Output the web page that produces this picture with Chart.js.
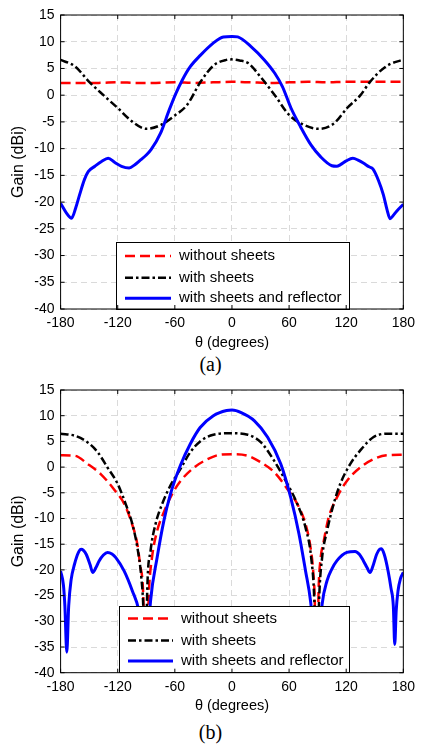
<!DOCTYPE html>
<html>
<head>
<meta charset="utf-8">
<script src="https://cdn.jsdelivr.net/npm/chart.js@4.4.1/dist/chart.umd.min.js"></script>
<style>
  html, body { margin: 0; padding: 0; background: #fff; }
  body { width: 421px; height: 744px; position: relative; overflow: hidden; }
  .plot { position: absolute; left: 0; width: 421px; }
  .cap { position: absolute; left: 0; width: 421px; text-align: center; line-height: 22px;
         font-family: "Liberation Serif", "Times New Roman", serif; font-size: 20px; color: #000; }
</style>
</head>
<body>
<div class="plot" style="top:0;height:352px"><canvas id="chartA"></canvas></div>
<div class="cap" style="top:353px">(a)</div>
<div class="plot" style="top:375px;height:340px"><canvas id="chartB"></canvas></div>
<div class="cap" style="top:721px">(b)</div>

<script>
// labels
const seriesLabels = ['without sheets', 'with sheets', 'with sheets and reflector'];
const xTitle = 'θ (degrees)';
const yTitle = 'Gain (dBi)';

// (a) values
const aRedDeg  = [-180, -160, -140, -120, -100, -80, -60, -40, -20, 0, 20, 40, 60, 80, 100, 120, 140, 160, 180];
const aRedGain = [2.3, 2.3, 2.3, 2.4, 2.3, 2.3, 2.4, 2.3, 2.4, 2.5, 2.4, 2.3, 2.4, 2.5, 2.4, 2.5, 2.5, 2.5, 2.5];

const aBlackDeg  = [-180, -165, -150, -135, -120, -105, -90, -75, -60, -47, -33, -19, -6, 0, 8, 17, 31, 45, 60, 76, 91, 107, 121, 135, 145, 162, 180];
const aBlackGain = [6.6, 5.4, 2.5, 0.0, -2.4, -4.9, -6.3, -5.6, -3.8, -1.8, 2.5, 5.6, 6.6, 6.7, 6.5, 6.0, 3.2, 0.0, -3.7, -5.6, -6.3, -5.3, -2.4, 0.0, 2.5, 5.4, 6.7];

const aBlueDeg  = [-180, -174, -168.5, -164, -160, -155, -151, -144, -137, -130, -123, -116, -108, -102, -96, -90, -85, -75, -66, -59, -52, -44, -33, -20, -9, 0,
                   6, 20, 34, 45, 53, 62, 72, 83, 93, 105, 110, 114, 120, 127, 133, 138, 144, 148, 154, 159, 163, 166, 169, 173, 180];
const aBlueGain = [-20.2, -22.0, -23.0, -21.0, -18.6, -15.8, -14.3, -13.3, -12.4, -11.8, -12.6, -13.3, -13.6, -13.0, -12.1, -11.2, -10.2, -7.1, -2.8, 0.3, 2.9, 5.3, 7.5, 9.7, 10.9, 11.0,
                   10.9, 9.1, 6.6, 4.1, 1.6, -2.4, -5.9, -9.3, -11.5, -13.2, -13.3, -13.0, -12.3, -11.8, -12.2, -12.7, -13.4, -13.8, -16.0, -18.6, -21.5, -23.1, -22.6, -21.7, -20.4];

// (b) values
const bRedDeg  = [-180, -165, -151.5, -137.6, -124, -113, -106, -99.4, -96.6, -93, -91, -87.2, -84, -78.6, -71.6, -63, -54, -40, -26, -12.6, 0,
                  16.6, 30.5, 44.4, 58.3, 68.7, 77.3, 82.5, 85.3, 87, 89, 91, 93, 96.4, 101.6, 110.3, 120.7, 134.6, 148.4, 162.3, 180];
const bRedGain = [2.3, 2.2, 0.6, -1.4, -4.3, -7.2, -10.5, -15.0, -18.9, -26.0, -45, -24.1, -17.6, -12.4, -8.8, -5.3, -2.7, -0.1, 1.5, 2.4, 2.5,
                  2.2, 0.9, -1.0, -4.3, -7.2, -11.1, -15.6, -20.2, -26.0, -45, -24.0, -18.0, -14.4, -9.8, -5.9, -2.7, -0.1, 1.5, 2.3, 2.4];

const bBlackDeg  = [-180, -165, -151.5, -141, -131, -120, -111.6, -104.6, -99.4, -95.2, -93, -91, -89, -85.5, -80.3, -73.4, -64.7, -54.2, -43.8, -33.4, -19.5, 0,
                    16.6, 30.5, 44.4, 58.3, 68.7, 77.3, 83.2, 86.5, 89, 91.5, 94.7, 99.9, 106.8, 113.7, 124.2, 134.6, 148.4, 162.3, 180];
const bBlackGain = [6.5, 6.1, 4.8, 2.9, 0.0, -3.3, -7.2, -11.1, -15.6, -21.5, -28, -45, -24, -16.3, -11.1, -7.2, -3.6, -0.4, 2.9, 5.0, 6.3, 6.6,
                    6.3, 4.8, 1.2, -3.3, -7.2, -11.8, -17.6, -26, -45, -26, -17.6, -12.4, -7.2, -3.3, 0.6, 3.2, 5.8, 6.5, 6.5];

const bBlueDeg  = [-180, -177, -175.5, -173.5, -171.5, -169, -165.4, -161, -158.5, -156, -153, -149, -146.3, -143, -139.4, -135, -130.7, -126, -122, -113.3, -104.6, -97.7, -94, -91,
                   -88, -85.5, -78.6, -71.6, -64.7, -54.2, -43.8, -33.4, -19.5, -5.6, 0, 9.7, 23.6, 37.5, 51.3, 61.7, 70.4, 77.3, 82.5, 86, 89,
                   92, 94.7, 99.9, 105, 110.3, 120.7, 129.4, 134, 138, 142, 145, 148, 151.9, 155, 157.1, 160, 164, 167, 169.5, 171, 172.5, 174.4, 177, 180];
const bBlueGain = [-20.2, -23.0, -27.0, -36.0, -27.0, -22.0, -18.9, -16.5, -16.0, -16.2, -17.0, -19.0, -20.5, -19.6, -18.2, -17.1, -16.6, -16.9, -17.6, -20.2, -24.1, -28.0, -33.0, -45,
                   -33.0, -26.0, -17.6, -10.5, -5.3, 0.3, 4.5, 7.7, 10.0, 11.0, 11.1, 10.6, 9.0, 5.8, 0.6, -5.9, -13.0, -20.2, -26.0, -33.0, -45,
                   -33.0, -26.7, -22.1, -19.8, -18.2, -16.6, -16.4, -17.0, -18.2, -19.6, -20.5, -19.3, -17.0, -16.0, -15.9, -17.0, -20.2, -23.5, -27.0, -34.5, -28.0, -24.1, -21.7, -20.5];

const pts = (deg, gain) => deg.map((d, i) => ({ x: d, y: gain[i] }));

const FONT = '"Liberation Sans", Arial, Helvetica, sans-serif';

// white legend box inside the axes, like MATLAB
const boxLegend = {
  id: 'boxLegend',
  afterDatasetsDraw(chart, args, opts) {
    const { ctx } = chart;
    ctx.save();
    ctx.fillStyle = '#fff';
    ctx.fillRect(opts.x, opts.y, opts.w, opts.h);
    ctx.strokeStyle = '#000';
    ctx.lineWidth = 1;
    ctx.strokeRect(opts.x + 0.5, opts.y + 0.5, opts.w, opts.h);
    chart.data.datasets.forEach((ds, i) => {
      const ry = opts.rows[i];
      ctx.beginPath();
      ctx.strokeStyle = ds.borderColor;
      ctx.lineWidth = ds.borderWidth;
      ctx.setLineDash(ds.borderDash || []);
      ctx.moveTo(opts.lineX0, ry);
      ctx.lineTo(opts.lineX1, ry);
      ctx.stroke();
      ctx.setLineDash([]);
      ctx.fillStyle = '#000';
      ctx.font = '15px ' + FONT;
      ctx.textBaseline = 'middle';
      ctx.fillText(ds.label, opts.textX, ry);
    });
    ctx.restore();
  }
};

// box round the axes with inward ticks
const frame = {
  id: 'frame',
  afterDraw(chart) {
    const { ctx, chartArea: a, scales: { x, y } } = chart;
    ctx.save();
    ctx.strokeStyle = '#000';
    ctx.lineWidth = 1;
    ctx.setLineDash([]);
    ctx.strokeRect(a.left, a.top, a.right - a.left, a.bottom - a.top);
    ctx.beginPath();
    x.ticks.forEach(t => {
      const px = x.getPixelForValue(t.value);
      ctx.moveTo(px, a.bottom); ctx.lineTo(px, a.bottom - 4);
      ctx.moveTo(px, a.top); ctx.lineTo(px, a.top + 4);
    });
    y.ticks.forEach(t => {
      const py = y.getPixelForValue(t.value);
      ctx.moveTo(a.left, py); ctx.lineTo(a.left + 4, py);
      ctx.moveTo(a.right, py); ctx.lineTo(a.right - 4, py);
    });
    ctx.stroke();
    ctx.restore();
  }
};

function makeChart(id, red, black, blue, xHeight, legendBox) {
  return new Chart(document.getElementById(id), {
    type: 'line',
    data: {
      datasets: [
        { label: seriesLabels[0], data: red, borderColor: '#ff0000', borderWidth: 2.5, borderDash: [10, 5], order: 3 },
        { label: seriesLabels[1], data: black, borderColor: '#000000', borderWidth: 2.5, borderDash: [8, 3, 2.5, 3], order: 2 },
        { label: seriesLabels[2], data: blue, borderColor: '#0000ff', borderWidth: 3, order: 1 }
      ]
    },
    options: {
      responsive: true,
      maintainAspectRatio: false,
      animation: false,
      layout: { padding: { left: 0, right: 14, top: 15, bottom: 0 } },
      elements: {
        point: { radius: 0 },
        line: { cubicInterpolationMode: 'monotone', fill: false }
      },
      plugins: {
        legend: { display: false },
        tooltip: { enabled: false },
        boxLegend: legendBox
      },
      scales: {
        x: {
          type: 'linear', min: -180, max: 180,
          ticks: { stepSize: 60, padding: 6, color: '#000', font: { family: FONT, size: 14 } },
          grid: { color: '#dadada', drawTicks: false },
          border: { display: false, dash: [6, 4] },
          title: { display: true, text: xTitle, color: '#000', font: { family: FONT, size: 14.5 }, padding: { top: 0, bottom: 0 } },
          afterFit(scale) { scale.height = xHeight; }
        },
        y: {
          type: 'linear', min: -40, max: 15,
          ticks: { stepSize: 5, padding: 6, color: '#000', font: { family: FONT, size: 14 } },
          grid: { color: '#dadada', drawTicks: false },
          border: { display: false, dash: [6, 4] },
          title: { display: true, text: yTitle, color: '#000', font: { family: FONT, size: 16 }, padding: { top: 9, bottom: 0 } },
          afterFit(scale) { scale.width = 60.6; }
        }
      }
    },
    plugins: [boxLegend, frame]
  });
}

makeChart('chartA', pts(aRedDeg, aRedGain), pts(aBlackDeg, aBlackGain), pts(aBlueDeg, aBlueGain), 43,
  { x: 116, y: 242, w: 233, h: 67, rows: [256, 277.7, 298.3], lineX0: 125, lineX1: 171, textX: 179 });

makeChart('chartB', pts(bRedDeg, bRedGain), pts(bBlackDeg, bBlackGain), pts(bBlueDeg, bBlueGain), 42.3,
  { x: 119, y: 231, w: 230, h: 66, rows: [243.5, 265.5, 286], lineX0: 128, lineX1: 173, textX: 181 });
</script>
</body>
</html>
